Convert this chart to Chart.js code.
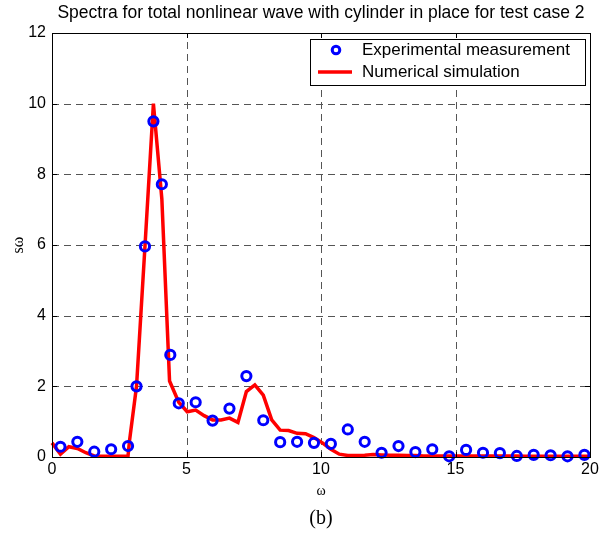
<!DOCTYPE html>
<html><head><meta charset="utf-8">
<script src="https://cdn.jsdelivr.net/npm/chart.js@4.4.0/dist/chart.umd.min.js"></script>
<style>html,body{margin:0;padding:0;background:#fff;}#wrap{width:610px;height:544px;position:relative;}</style>
</head><body><div id="wrap"><canvas id="c" width="610" height="544"></canvas></div>
<script>
const titleText = "Spectra for total nonlinear wave with cylinder in place for test case 2";
const xLabel = "\u03C9";
const yLabel = "s\u03C9";
const captionText = "(b)";
const legendLabels = ["Experimental measurement", "Numerical simulation"];
const xTicks = [0, 5, 10, 15, 20];
const yTicks = [0, 2, 4, 6, 8, 10, 12];

const expX = [0.314,0.942,1.571,2.199,2.827,3.142,3.456,3.770,4.084,4.398,4.712,5.341,5.969,6.597,7.226,7.854,8.482,9.111,9.739,10.367,10.996,11.624,12.252,12.881,13.509,14.137,14.765,15.394,16.022,16.650,17.279,17.907,18.535,19.164,19.792];
const expY = [0.29,0.43,0.15,0.22,0.31,2.0,5.96,9.5,7.72,2.89,1.52,1.55,1.03,1.37,2.29,1.04,0.42,0.43,0.40,0.37,0.78,0.43,0.12,0.31,0.14,0.22,0.02,0.2,0.12,0.11,0.03,0.06,0.05,0.02,0.06];

const simX = [0,0.314,0.628,0.942,1.257,1.571,1.885,2.199,2.513,2.827,2.880,3.142,3.456,3.770,4.084,4.370,4.712,5.027,5.341,5.655,5.969,6.283,6.597,6.912,7.226,7.540,7.854,8.168,8.482,8.796,9.111,9.425,9.739,10.053,10.367,10.681,10.996,11.310,11.624,11.938,12.252,12.566,12.881,13.195,13.509,13.823,14.137,14.451,14.765,15.080,15.394,15.708,16.022,16.336,16.650,16.965,17.279,17.593,17.907,18.221,18.535,18.850,19.164,19.478,19.792,20.0];
const simY = [0.40,0.08,0.29,0.24,0.12,0.03,0.02,0.02,0.02,0.03,0.45,2.0,5.96,10.0,7.3,2.15,1.55,1.28,1.33,1.17,1.05,1.05,1.10,0.98,1.85,2.04,1.75,1.05,0.76,0.75,0.67,0.66,0.55,0.40,0.22,0.08,0.04,0.04,0.05,0.07,0.06,0.05,0.05,0.04,0.04,0.03,0.03,0.03,0.03,0.03,0.03,0.03,0.03,0.03,0.03,0.03,0.03,0.02,0.02,0.02,0.02,0.02,0.02,0.02,0.02,0.02];

const expPts = expX.map((x, i) => ({x: x, y: expY[i]}));
const simPts = simX.map((x, i) => ({x: x, y: simY[i]}));

const SANS = "'Liberation Sans', Arial, sans-serif";
const SERIF = "'Liberation Serif', 'Times New Roman', serif";

const decor = {
  id: 'decor',
  beforeDatasetsDraw(chart) {
    const {ctx, chartArea: a, scales: {x, y}} = chart;
    ctx.save();
    ctx.strokeStyle = '#555';
    ctx.lineWidth = 1;
    ctx.setLineDash([7, 5]);
    xTicks.forEach(v => {
      if (v <= x.min || v >= x.max) return;
      const px = Math.round(x.getPixelForValue(v)) + 0.5;
      ctx.beginPath(); ctx.moveTo(px, a.bottom); ctx.lineTo(px, a.top); ctx.stroke();
    });
    yTicks.forEach(v => {
      if (v <= y.min || v >= y.max) return;
      const py = Math.round(y.getPixelForValue(v)) + 0.5;
      ctx.beginPath(); ctx.moveTo(a.left, py); ctx.lineTo(a.right, py); ctx.stroke();
    });
    ctx.restore();
  },
  afterDraw(chart) {
    const {ctx, chartArea: a, scales: {x, y}} = chart;
    ctx.save();
    ctx.strokeStyle = '#000'; ctx.lineWidth = 1; ctx.setLineDash([]);
    ctx.strokeRect(Math.round(a.left) + 0.5, Math.round(a.top) + 0.5, Math.round(a.right - a.left), Math.round(a.bottom - a.top));
    const tl = 5;
    xTicks.forEach(v => {
      const px = Math.round(x.getPixelForValue(v)) + 0.5;
      ctx.beginPath(); ctx.moveTo(px, a.bottom); ctx.lineTo(px, a.bottom - tl);
      ctx.moveTo(px, a.top); ctx.lineTo(px, a.top + tl); ctx.stroke();
    });
    yTicks.forEach(v => {
      const py = Math.round(y.getPixelForValue(v)) + 0.5;
      ctx.beginPath(); ctx.moveTo(a.left, py); ctx.lineTo(a.left + tl, py);
      ctx.moveTo(a.right, py); ctx.lineTo(a.right - tl, py); ctx.stroke();
    });
    ctx.fillStyle = '#000';
    ctx.font = '17.5px ' + SANS;
    ctx.textAlign = 'center'; ctx.textBaseline = 'middle';
    ctx.fillText(titleText, (a.left + a.right) / 2, 13);
    ctx.font = '14px ' + SERIF;
    ctx.fillText(xLabel, (a.left + a.right) / 2, 491);
    ctx.font = '20px ' + SERIF;
    ctx.fillText(captionText, (a.left + a.right) / 2, 519);
    ctx.save();
    ctx.translate(19, (a.top + a.bottom) / 2);
    ctx.rotate(-Math.PI / 2);
    ctx.font = '16px ' + SERIF;
    ctx.fillText(yLabel, 0, 0);
    ctx.restore();
    const lx = 310, ly = 39, lw = 275, lh = 46;
    ctx.fillStyle = '#fff';
    ctx.fillRect(lx, ly, lw, lh);
    ctx.strokeStyle = '#000'; ctx.lineWidth = 1;
    ctx.strokeRect(lx + 0.5, ly + 0.5, lw, lh);
    ctx.strokeStyle = '#0000ff'; ctx.lineWidth = 3;
    ctx.beginPath(); ctx.arc(336, 50, 3.8, 0, Math.PI * 2); ctx.stroke();
    ctx.strokeStyle = '#ff0000'; ctx.lineWidth = 3.5;
    ctx.beginPath(); ctx.moveTo(318, 72); ctx.lineTo(352, 72); ctx.stroke();
    ctx.fillStyle = '#000';
    ctx.font = '17px ' + SANS;
    ctx.textAlign = 'left'; ctx.textBaseline = 'middle';
    ctx.fillText(legendLabels[0], 362, 50);
    ctx.fillText(legendLabels[1], 362, 72);
    ctx.restore();
  }
};

new Chart(document.getElementById('c'), {
  type: 'scatter',
  data: {
    datasets: [
      {
        label: legendLabels[0],
        data: expPts,
        showLine: false,
        pointStyle: 'circle',
        pointRadius: 4.6,
        pointBorderWidth: 3,
        pointBorderColor: '#0000ff',
        pointBackgroundColor: 'rgba(0,0,0,0)',
        clip: false
      },
      {
        label: legendLabels[1],
        data: simPts,
        showLine: true,
        borderColor: '#ff0000',
        borderWidth: 3.5,
        pointRadius: 0,
        tension: 0,
        clip: 3
      }
    ]
  },
  options: {
    responsive: false,
    animation: false,
    events: [],
    layout: {padding: {left: 0, right: 20, top: 33, bottom: 0}},
    plugins: {legend: {display: false}, title: {display: false}, tooltip: {enabled: false}},
    scales: {
      x: {
        type: 'linear', min: 0, max: 20,
        afterBuildTicks: s => { s.ticks = xTicks.map(v => ({value: v})); },
        afterFit: s => { s.height = 87; },
        grid: {display: false, drawTicks: false},
        border: {display: false},
        ticks: {color: '#000', font: {family: SANS, size: 16}, padding: 3, maxRotation: 0}
      },
      y: {
        type: 'linear', min: 0, max: 12,
        afterBuildTicks: s => { s.ticks = yTicks.map(v => ({value: v})); },
        afterFit: s => { s.width = 52; },
        grid: {display: false, drawTicks: false},
        border: {display: false},
        ticks: {color: '#000', font: {family: SANS, size: 16}, padding: 6}
      }
    }
  },
  plugins: [decor]
});
</script>
</body></html>
